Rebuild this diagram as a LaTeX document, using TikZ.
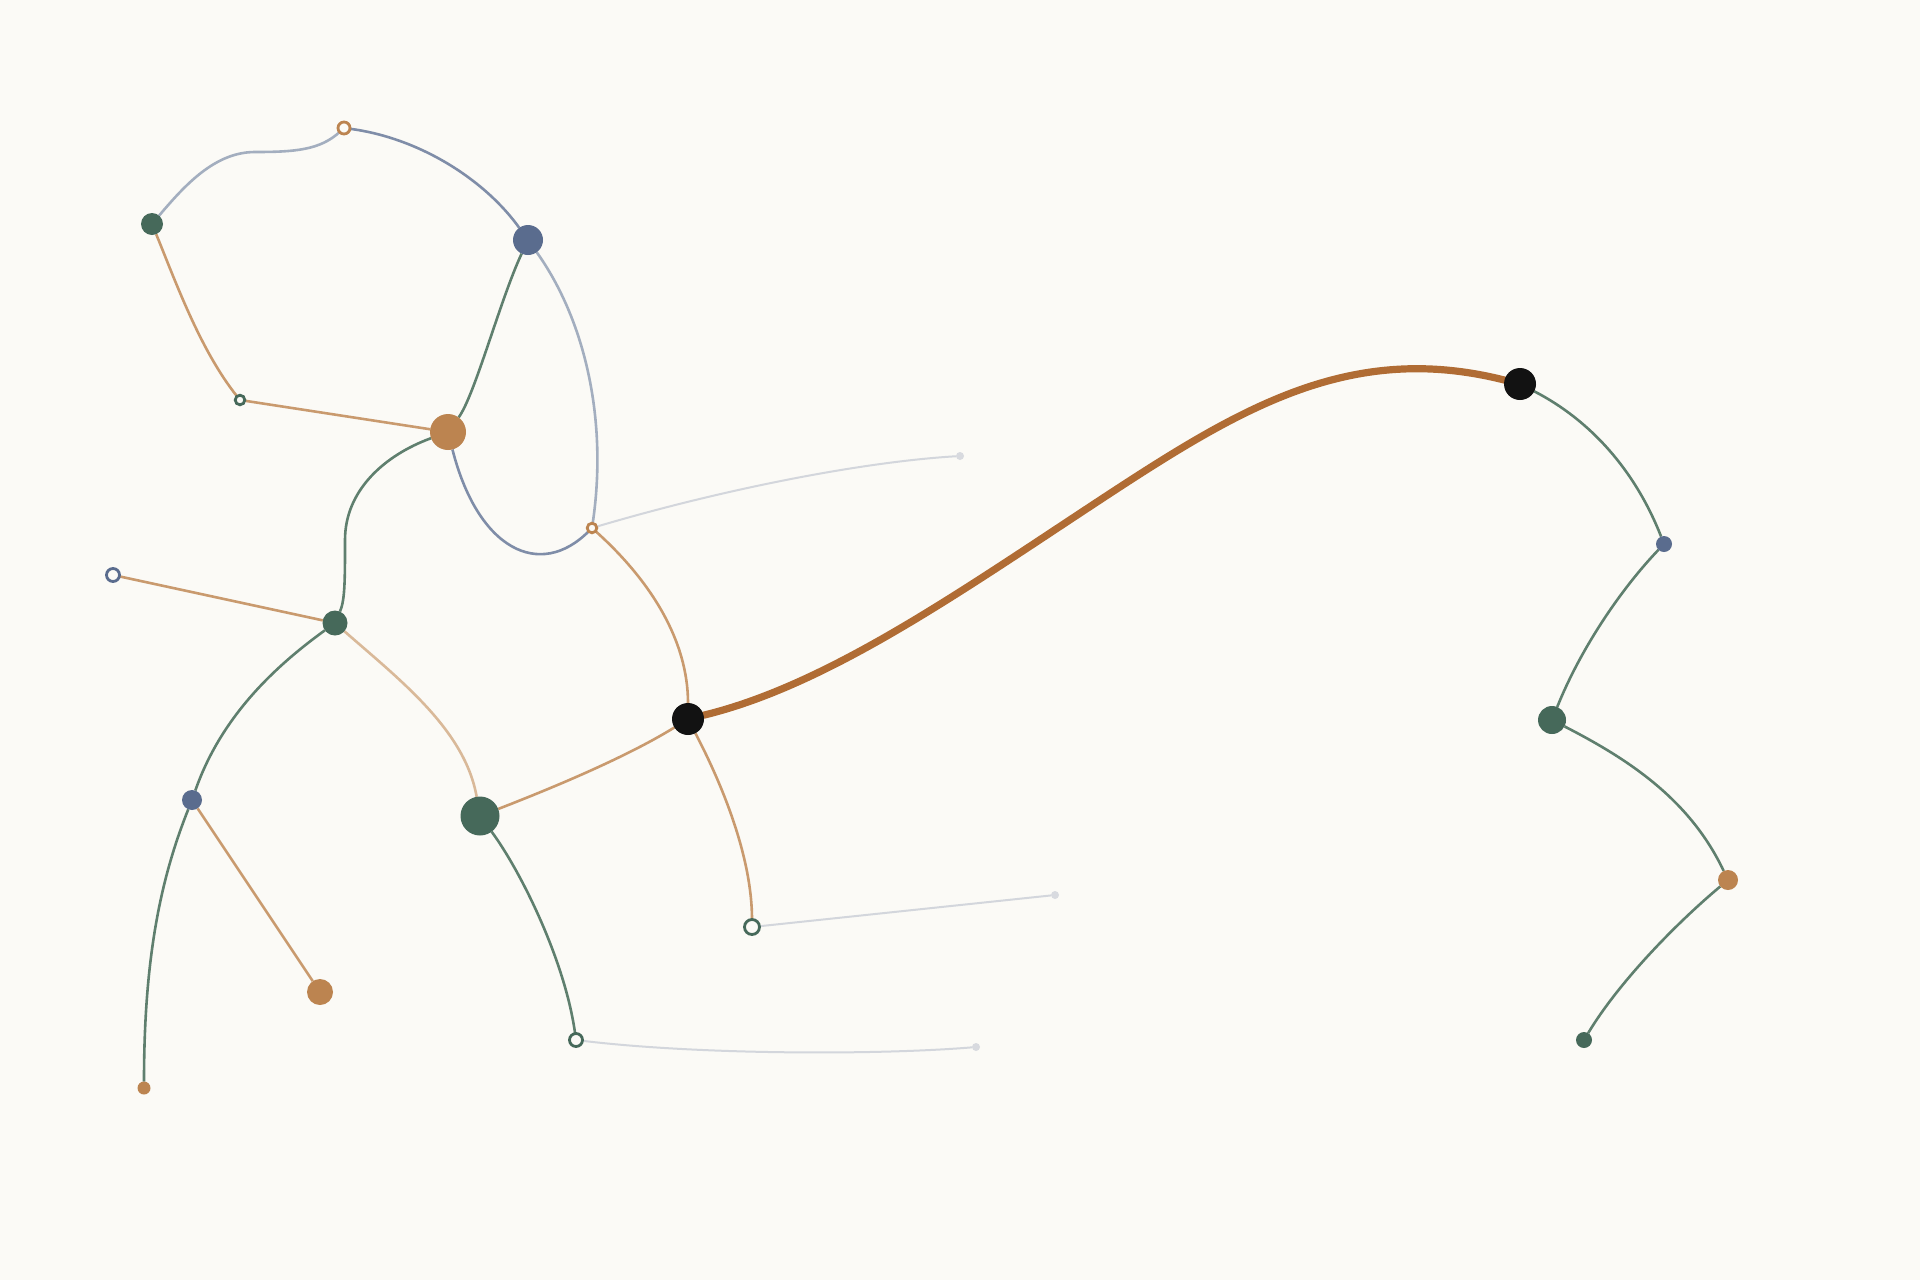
\documentclass[tikz,border=0pt]{standalone}
\definecolor{bgc}{HTML}{FBFAF6}
\definecolor{gN}{HTML}{46695A}
\definecolor{bN}{HTML}{5A6C8E}
\definecolor{oN}{HTML}{BC8450}
\definecolor{kN}{HTML}{121212}
\definecolor{thickc}{HTML}{B06C34}
\definecolor{gL}{HTML}{5F7F6E}
\definecolor{oL}{HTML}{C99A6E}
\definecolor{oLL}{HTML}{D9B999}
\definecolor{bL}{HTML}{7F8DA8}
\definecolor{bLL}{HTML}{A3AEBF}
\definecolor{greyL}{HTML}{D3D6DC}
\definecolor{greyN}{HTML}{D8DADF}
\pgfdeclarelayer{bglayer}
\pgfdeclarelayer{edgelayer}
\pgfsetlayers{bglayer,edgelayer,main}
\begin{document}
\begin{tikzpicture}[x=0.5pt,y=-0.5pt,
  base/.style={circle,inner sep=0pt,outer sep=0pt},
  gfill/.style={base,fill=gN,minimum size=#1},
  bfill/.style={base,fill=bN,minimum size=#1},
  ofill/.style={base,fill=oN,minimum size=#1},
  kfill/.style={base,fill=kN,minimum size=#1},
  gring/.style={base,draw=gN,fill=bgc,line width=1.4pt,minimum size=#1},
  bring/.style={base,draw=bN,fill=bgc,line width=1.4pt,minimum size=#1},
  oring/.style={base,draw=oN,fill=bgc,line width=1.4pt,minimum size=#1},
  gend/.style={base,fill=greyN,minimum size=4pt},
  gedge/.style={draw=gL,line width=1.3pt},
  oedge/.style={draw=oL,line width=1.3pt},
  oledge/.style={draw=oLL,line width=1.3pt},
  bedge/.style={draw=bL,line width=1.3pt},
  bledge/.style={draw=bLL,line width=1.3pt},
  greyedge/.style={draw=greyL,line width=1pt},
  thickedge/.style={draw=thickc,line width=3.6pt,line cap=round}
]
\begin{pgfonlayer}{bglayer}
\fill[bgc] (0,0) rectangle (1920,1280);
\end{pgfonlayer}
\useasboundingbox (0,0) rectangle (1920,1280);

% nodes
\node[gfill=11pt] (A) at (152,224) {};
\node[oring=6pt] (B) at (344,128) {};
\node[bfill=15pt] (C) at (528,240) {};
\node[gring=4.8pt] (D) at (240,400) {};
\node[ofill=18pt] (E) at (448,432) {};
\node[oring=4.8pt] (F) at (592,528) {};
\node[bring=6.5pt] (G) at (113,575) {};
\node[gfill=12.5pt] (H) at (335,623) {};
\node[kfill=16pt] (I) at (688,719) {};
\node[bfill=10pt] (J) at (192,800) {};
\node[gfill=19.5pt] (K) at (480,816) {};
\node[ofill=13pt] (L) at (320,992) {};
\node[ofill=6.5pt] (M) at (144,1088) {};
\node[gring=6.5pt] (N) at (576,1040) {};
\node[gring=7.5pt] (O) at (752,927) {};
\node[gend] (P) at (960,456) {};
\node[gend] (Q) at (1055,895) {};
\node[gend] (R) at (976,1047) {};
\node[kfill=16pt] (S) at (1520,384) {};
\node[bfill=8pt] (T) at (1664,544) {};
\node[gfill=14pt] (U) at (1552,720) {};
\node[ofill=10pt] (V) at (1728,880) {};
\node[gfill=8pt] (W) at (1584,1040) {};
\coordinate (mid) at (1100,500);

\begin{pgfonlayer}{edgelayer}
\path[bledge] (A) .. controls (185,185) and (215,152) .. (255,152) .. controls (295,152) and (320,150) .. (B);
\path[bedge] (B) .. controls (420,138) and (485,180) .. (C);
\path[oedge] (A) .. controls (175,280) and (200,350) .. (D);
\path[oedge] (D) -- (E);
\path[gedge] (C) .. controls (500,300) and (475,395) .. (E);
\path[bledge] (C) .. controls (585,320) and (608,420) .. (F);
\path[bedge] (E) .. controls (478,550) and (540,580) .. (F);
\path[gedge] (E) .. controls (385,455) and (345,490) .. (345,540) .. controls (345,580) and (345,600) .. (H);
\path[oedge] (G) -- (H);
\path[greyedge] (F) .. controls (720,490) and (860,462) .. (P);
\path[oedge] (F) .. controls (650,580) and (688,640) .. (I);
\path[gedge] (H) .. controls (270,670) and (220,720) .. (J);
\path[oledge] (H) .. controls (400,680) and (465,730) .. (K);
\path[oedge] (K) .. controls (560,785) and (630,755) .. (I);
\path[oedge] (I) .. controls (725,790) and (752,860) .. (O);
\path[greyedge] (O) -- (Q);
\path[gedge] (K) .. controls (520,870) and (565,960) .. (N);
\path[greyedge] (N) .. controls (700,1055) and (880,1055) .. (R);
\path[oedge] (J) -- (L);
\path[gedge] (J) .. controls (160,880) and (144,960) .. (M);
\path[thickedge] (I) .. controls (828,685) and (960,592) .. (mid) .. controls (1240,408) and (1350,341) .. (S);
\path[gedge] (S) .. controls (1590,420) and (1635,470) .. (T);
\path[gedge] (T) .. controls (1620,590) and (1580,650) .. (U);
\path[gedge] (U) .. controls (1630,760) and (1690,800) .. (V);
\path[gedge] (V) .. controls (1680,920) and (1620,980) .. (W);
\end{pgfonlayer}
\end{tikzpicture}
\end{document}
